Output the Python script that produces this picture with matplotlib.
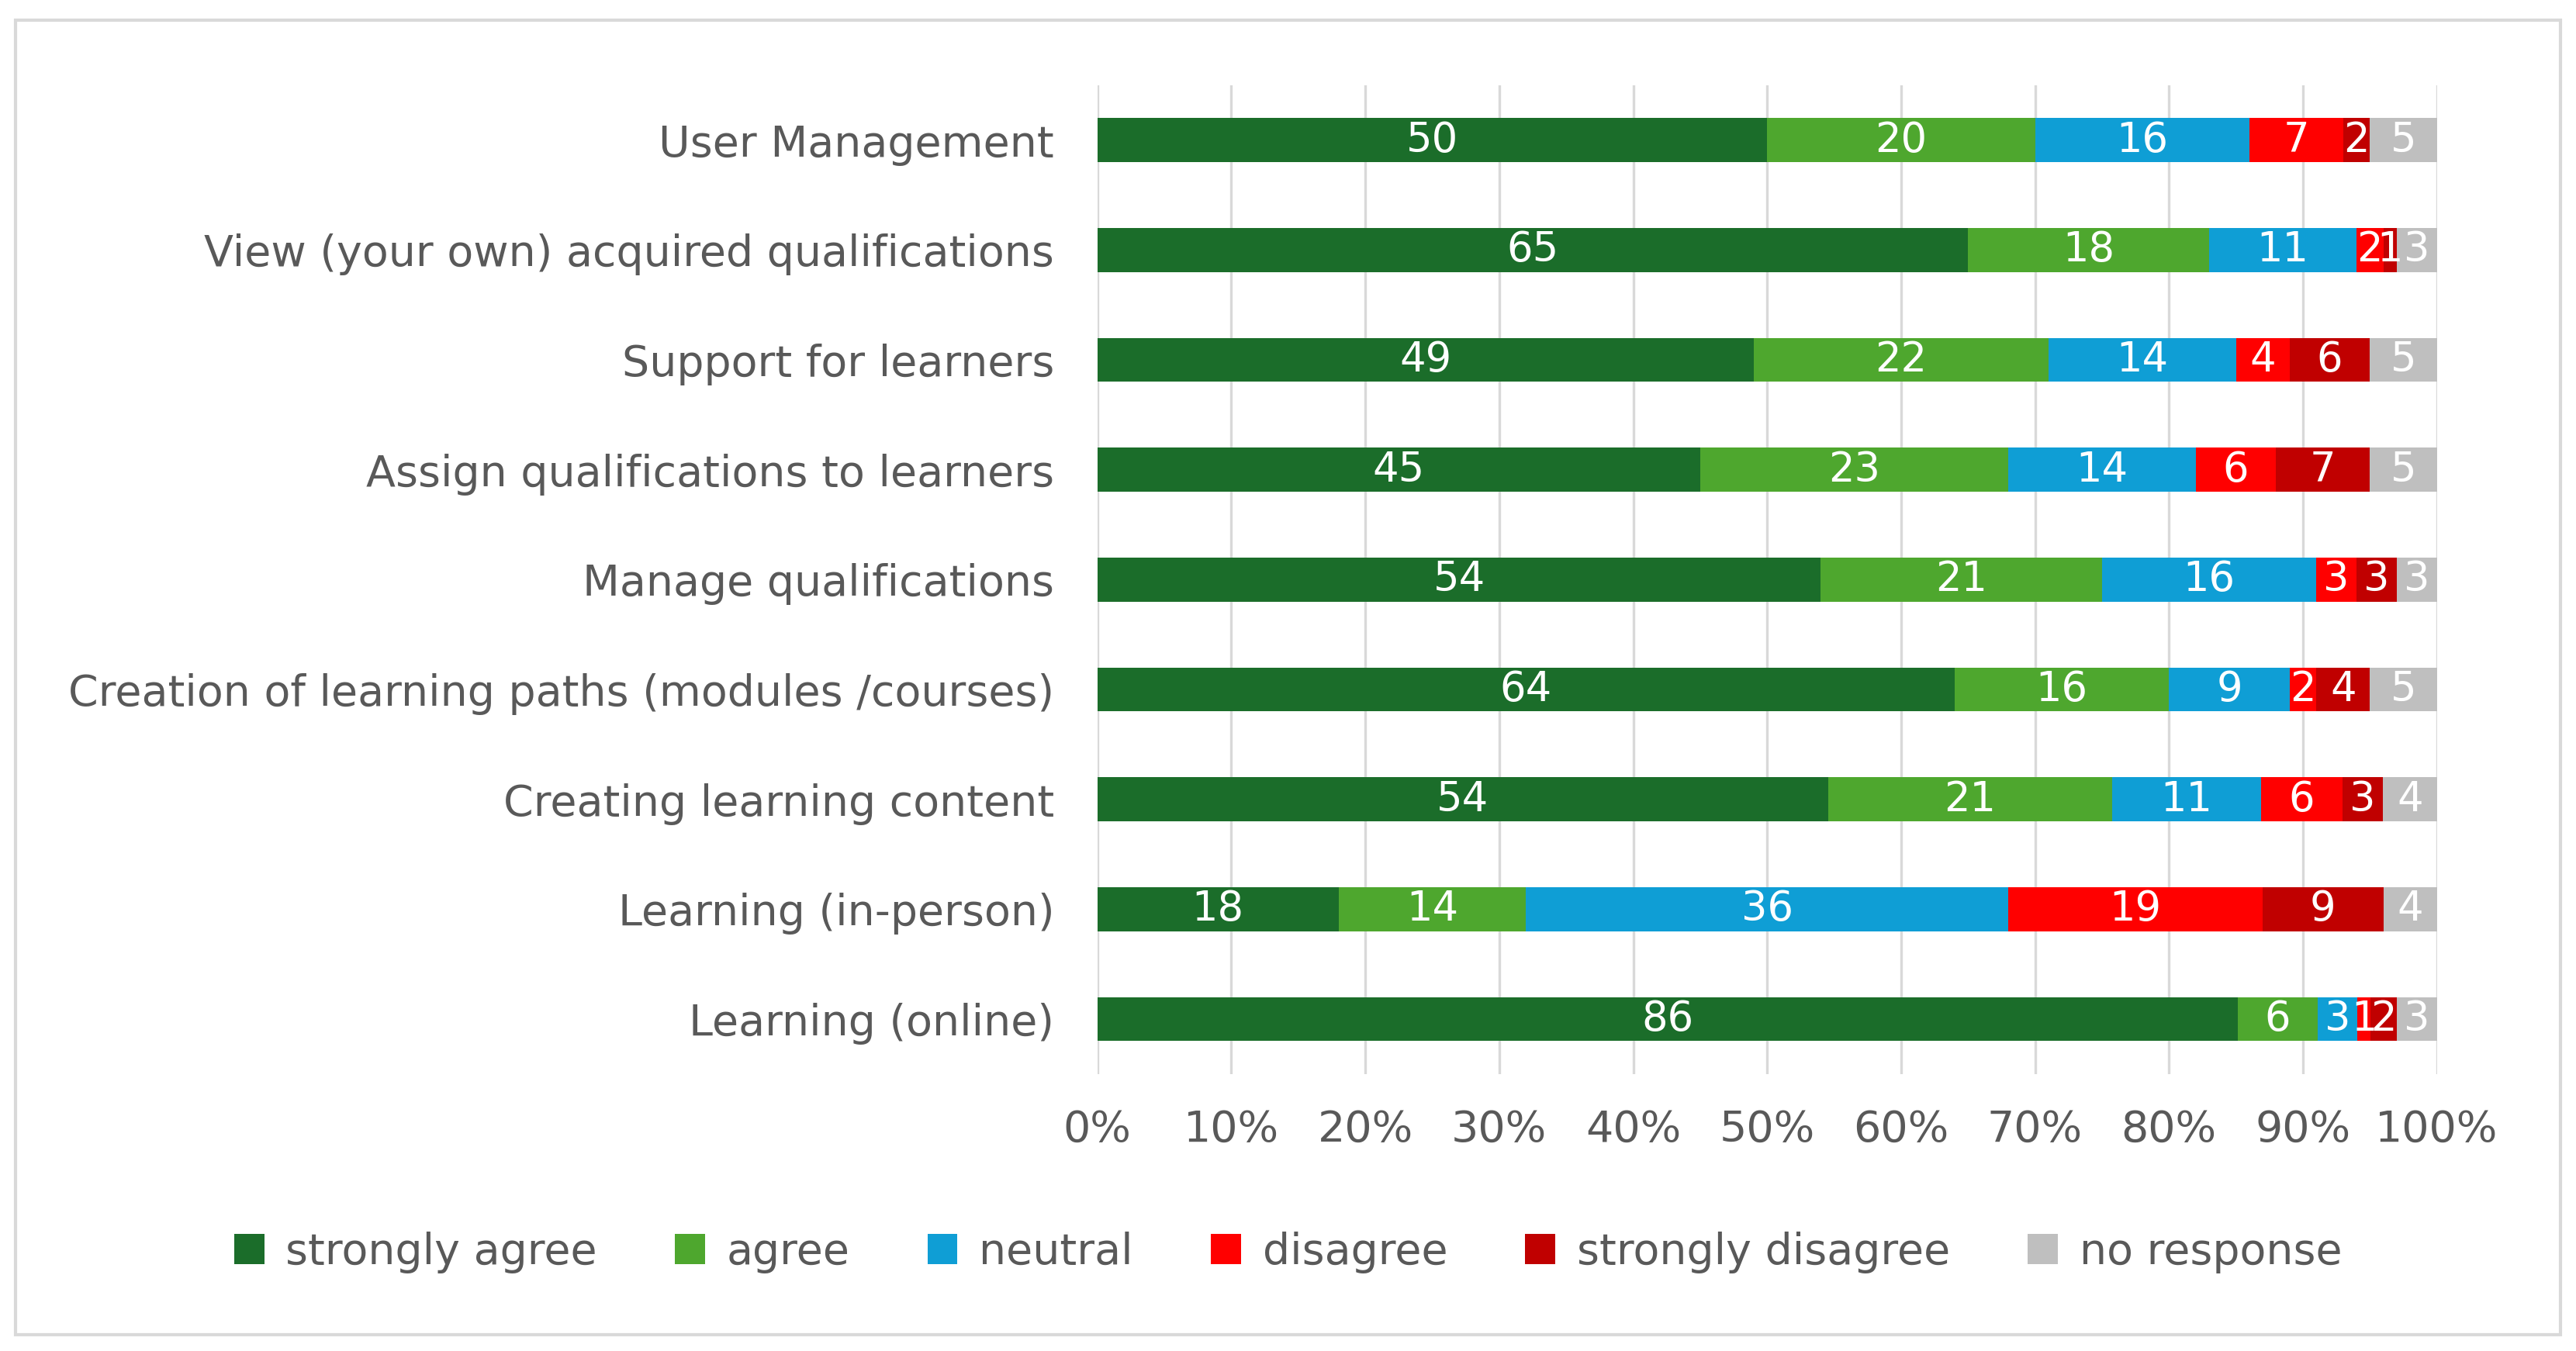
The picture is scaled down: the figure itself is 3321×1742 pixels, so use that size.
import numpy as np
import matplotlib

matplotlib.use("Agg")
import matplotlib.pyplot as plt
from matplotlib.patches import Rectangle

categories = [
    "User Management",
    "View (your own) acquired qualifications",
    "Support for learners",
    "Assign qualifications to learners",
    "Manage qualifications",
    "Creation of learning paths (modules /courses)",
    "Creating learning content",
    "Learning (in-person)",
    "Learning (online)",
]
series = ["strongly agree", "agree", "neutral", "disagree", "strongly disagree", "no response"]
strongly_agree = [50, 65, 49, 45, 54, 64, 54, 18, 86]
agree = [20, 18, 22, 23, 21, 16, 21, 14, 6]
neutral = [16, 11, 14, 14, 16, 9, 11, 36, 3]
disagree = [7, 2, 4, 6, 3, 2, 6, 19, 1]
strongly_disagree = [2, 1, 6, 7, 3, 4, 3, 9, 2]
no_response = [5, 3, 5, 5, 3, 5, 4, 4, 3]
colors = ["#1B6D2A", "#4EA72E", "#0F9ED5", "#FF0000", "#C00000", "#BFBFBF"]

vals = np.array([strongly_agree, agree, neutral, disagree, strongly_disagree, no_response], float)
share = vals / vals.sum(axis=0) * 100

fig = plt.figure(figsize=(16.605, 8.71), dpi=200)
fig.patches.append(Rectangle((0.006, 0.012), 0.988, 0.973, transform=fig.transFigure,
                             fill=False, edgecolor="#D9D9D9", lw=1.5))
ax = fig.add_axes([0.426, 0.205, 0.52, 0.732])
y = np.arange(len(categories))
left = np.zeros(len(categories))
for i, name in enumerate(series):
    bars = ax.barh(y, share[i], left=left, height=0.4, color=colors[i], label=name, zorder=3)
    for j, b in enumerate(bars):
        ax.text(left[j] + share[i][j] / 2, y[j], f"{int(vals[i][j])}", ha="center", va="center",
                color="white", fontsize=19, zorder=4)
    left += share[i]

ax.set_xlim(0, 100)
ax.set_ylim(len(categories) - 0.5, -0.5)
ax.set_yticks(y)
ax.set_yticklabels(categories, fontsize=20, color="#595959")
ax.set_xticks(np.arange(0, 101, 10))
ax.set_xticklabels([f"{v}%" for v in range(0, 101, 10)], fontsize=20, color="#595959")
ax.tick_params(axis="y", length=0, pad=20)
ax.tick_params(axis="x", length=0, pad=16)
ax.grid(axis="x", color="#D9D9D9", lw=1.2, zorder=0)
for s in ax.spines.values():
    s.set_visible(False)

fig.legend(loc="center", bbox_to_anchor=(0.5, 0.073), ncol=6, frameon=False, fontsize=20,
           handlelength=0.7, handleheight=0.7, columnspacing=1.8, handletextpad=0.5,
           labelcolor="#595959")
fig.savefig("out.png", dpi=200)
